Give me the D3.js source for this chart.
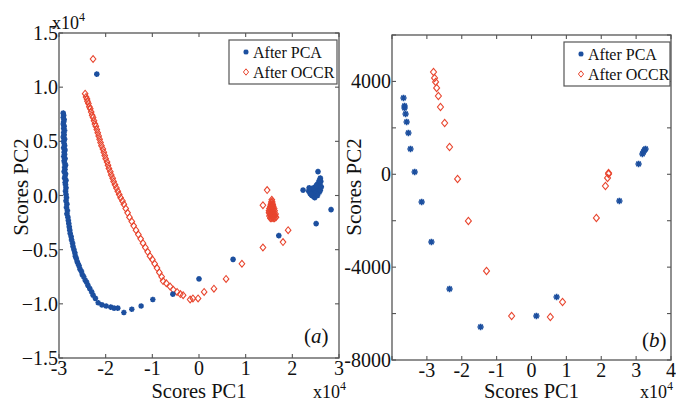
<!DOCTYPE html>
<html>
<head>
<meta charset="utf-8">
<script src="https://cdn.jsdelivr.net/npm/d3@7/dist/d3.min.js"></script>
<style>
  html, body { margin: 0; padding: 0; background: #fff; }
  svg { display: block; }
</style>
</head>
<body>
<svg id="chart" width="676" height="403" font-family="'Liberation Serif', 'Times New Roman', 'DejaVu Serif', serif"></svg>
<script>
// ---- Panel (a): scores in units of 1e4 ----
const aPcaScores = [
  [-2.91,0.76],[-2.90,0.74],[-2.91,0.72],[-2.89,0.70],[-2.90,0.68],[-2.91,0.66],[-2.89,0.64],
  [-2.90,0.62],[-2.88,0.60],[-2.90,0.58],[-2.89,0.56],[-2.91,0.54],[-2.88,0.52],[-2.90,0.50],
  [-2.89,0.48],[-2.88,0.46],[-2.90,0.44],[-2.87,0.42],[-2.89,0.40],[-2.88,0.38],[-2.90,0.36],
  [-2.87,0.34],[-2.89,0.32],[-2.88,0.30],[-2.86,0.28],[-2.88,0.26],[-2.87,0.24],[-2.89,0.22],
  [-2.86,0.20],[-2.87,0.18],[-2.88,0.16],[-2.85,0.14],[-2.87,0.12],[-2.86,0.10],[-2.85,0.07],
  [-2.86,0.04],[-2.85,0.01],[-2.84,-0.02],[-2.85,-0.05],[-2.83,-0.08],[-2.84,-0.11],[-2.82,-0.14],
  [-2.83,-0.17],[-2.81,-0.20],[-2.80,-0.23],[-2.79,-0.26],[-2.78,-0.29],[-2.77,-0.32],[-2.76,-0.35],
  [-2.74,-0.38],[-2.73,-0.41],[-2.71,-0.44],[-2.70,-0.47],[-2.68,-0.50],[-2.66,-0.53],[-2.65,-0.56],
  [-2.63,-0.58],[-2.61,-0.61],[-2.59,-0.63],[-2.57,-0.65],[-2.55,-0.68],[-2.52,-0.70],[-2.50,-0.73],
  [-2.47,-0.75],[-2.44,-0.78],[-2.41,-0.80],[-2.38,-0.83],[-2.34,-0.86],[-2.30,-0.89],[-2.27,-0.92],
  [-2.22,-0.95],[-2.16,-0.99],[-2.08,-1.01],[-1.99,-1.02],[-1.89,-1.03],[-1.82,-1.04],[-1.74,-1.04],
  [-1.61,-1.08],[-1.44,-1.05],[-1.24,-1.02],[-0.99,-0.96],[-0.56,-0.91],[0.00,-0.77],[0.73,-0.59],
  [1.71,-0.37],[2.51,-0.26],[2.83,-0.13],[-2.19,1.12],
  [2.23,0.05],[2.55,0.22],[2.35,0.04],[2.38,0.02],[2.40,0.06],[2.42,0.00],[2.44,0.03],[2.46,-0.01],
  [2.47,0.05],[2.49,0.02],[2.50,0.08],[2.52,0.04],[2.53,0.10],[2.55,0.06],[2.56,0.12],[2.57,0.08],
  [2.58,0.03],[2.59,0.10],[2.60,0.05],[2.61,0.13],[2.62,0.08],[2.45,0.07],[2.40,0.01],[2.36,0.07],
  [2.48,-0.02],[2.54,0.00],[2.58,0.14],[2.60,0.16],[2.51,0.09]
];
const aOccrScores = [
  [-2.27,1.26],
  [-2.44,0.94],[-2.42,0.91],[-2.40,0.89],[-2.39,0.87],[-2.37,0.85],[-2.35,0.82],[-2.33,0.80],
  [-2.31,0.77],[-2.29,0.74],[-2.27,0.72],[-2.25,0.69],[-2.23,0.66],[-2.21,0.64],[-2.19,0.61],
  [-2.17,0.58],[-2.15,0.55],[-2.13,0.52],[-2.11,0.49],[-2.09,0.46],[-2.06,0.43],[-2.04,0.40],
  [-2.02,0.37],[-2.00,0.34],[-1.97,0.31],[-1.95,0.28],[-1.93,0.25],[-1.90,0.22],[-1.88,0.19],
  [-1.85,0.16],[-1.83,0.13],[-1.80,0.10],[-1.77,0.07],[-1.74,0.04],[-1.71,0.01],[-1.68,-0.02],
  [-1.64,-0.05],[-1.61,-0.08],[-1.57,-0.12],[-1.53,-0.16],[-1.49,-0.20],[-1.44,-0.24],[-1.40,-0.28],
  [-1.35,-0.32],[-1.30,-0.36],[-1.25,-0.40],[-1.20,-0.44],[-1.15,-0.48],[-1.10,-0.52],[-1.05,-0.56],
  [-1.00,-0.59],[-0.95,-0.63],[-0.90,-0.67],[-0.85,-0.71],[-0.80,-0.75],[-0.77,-0.79],[-0.70,-0.81],
  [-0.62,-0.84],[-0.55,-0.87],[-0.47,-0.89],[-0.40,-0.91],[-0.34,-0.92],[-0.19,-0.96],[-0.13,-0.95],
  [-0.02,-0.95],[0.11,-0.89],[0.32,-0.86],[0.58,-0.77],[0.92,-0.63],[1.37,-0.48],[1.80,-0.43],
  [1.91,-0.32],[1.37,-0.09],[1.46,0.05],
  [1.56,-0.04],[1.55,-0.06],[1.57,-0.06],[1.54,-0.08],[1.56,-0.08],[1.58,-0.08],[1.53,-0.10],
  [1.55,-0.10],[1.57,-0.10],[1.59,-0.10],[1.51,-0.12],[1.53,-0.12],[1.56,-0.12],[1.58,-0.12],
  [1.61,-0.12],[1.50,-0.14],[1.53,-0.14],[1.56,-0.14],[1.59,-0.14],[1.62,-0.14],[1.50,-0.16],
  [1.52,-0.17],[1.55,-0.17],[1.58,-0.17],[1.61,-0.17],[1.64,-0.17],[1.51,-0.19],[1.54,-0.19],
  [1.57,-0.19],[1.60,-0.19],[1.63,-0.19],[1.53,-0.21],[1.56,-0.21],[1.59,-0.21],[1.62,-0.21],
  [1.65,-0.20]
];
const aXTicks = [-3, -2, -1, 0, 1, 2, 3];
const aYTicks = [-1.5, -1.0, -0.5, 0.0, 0.5, 1.0, 1.5];

// ---- Panel (b): PC1 in units of 1e4, PC2 raw ----
const bPcaScores = [
  [-3.67,3287],[-3.64,2942],[-3.64,2856],[-3.61,2598],[-3.58,2253],[-3.53,1779],[-3.47,1090],
  [-3.35,99],[-3.15,-1193],[-2.87,-2916],[-2.35,-4941],[-1.46,-6578],[0.14,-6104],[0.72,-5286],
  [2.52,-1150],[3.07,444],[3.18,875],[3.21,961],[3.24,1047],[3.27,1090]
];
const bOccrScores = [
  [-2.81,4407],[-2.78,4149],[-2.75,3977],[-2.72,3718],[-2.67,3373],[-2.61,2899],[-2.49,2210],
  [-2.35,1176],[-2.12,-202],[-1.81,-2011],[-1.29,-4165],[-0.57,-6104],[0.54,-6147],[0.89,-5501],
  [1.86,-1882],[2.12,-504],[2.18,-159],[2.21,13],[2.21,56]
];
const bXTicks = [-4, -3, -2, -1, 0, 1, 2, 3, 4];
const bXLabels = [-3, -2, -1, 0, 1, 2, 3, 4];
const bYTicks = [-8000, -6000, -4000, -2000, 0, 2000, 4000, 6000];
const bYLabels = [-8000, -4000, 0, 4000];

const seriesNames = ["After PCA", "After OCCR"];
const BLUE = "#1c4f9f";
const RED = "#e8452e";
const INK = "#111";

const svg = d3.select("#chart");

// marker paths: 8-armed asterisk and open diamond
function starPath(r) {
  const d = r * 0.72;
  return `M${-r},0L${r},0M0,${-r}L0,${r}M${-d},${-d}L${d},${d}M${-d},${d}L${d},${-d}`;
}
function diamondPath(w, h) {
  return `M0,${-h}L${w},0L0,${h}L${-w},0Z`;
}

function drawPanel(cfg) {
  const g = svg.append("g");
  const x = d3.scaleLinear().domain(cfg.xDomain).range([cfg.left, cfg.right]);
  const y = d3.scaleLinear().domain(cfg.yDomain).range([cfg.bottom, cfg.top]);
  const tl = 4;

  // frame
  g.append("rect")
    .attr("x", cfg.left).attr("y", cfg.top)
    .attr("width", cfg.right - cfg.left).attr("height", cfg.bottom - cfg.top)
    .attr("fill", "none").attr("stroke", "#555").attr("stroke-width", 1.3);

  // inward tick marks on all four sides
  const ticks = g.append("g").attr("stroke", "#555").attr("stroke-width", 1.1);
  cfg.xTicks.forEach(v => {
    const px = x(v);
    ticks.append("line").attr("x1", px).attr("x2", px).attr("y1", cfg.bottom).attr("y2", cfg.bottom - tl);
    ticks.append("line").attr("x1", px).attr("x2", px).attr("y1", cfg.top).attr("y2", cfg.top + tl);
  });
  cfg.yTicks.forEach(v => {
    const py = y(v);
    ticks.append("line").attr("x1", cfg.left).attr("x2", cfg.left + tl).attr("y1", py).attr("y2", py);
    ticks.append("line").attr("x1", cfg.right).attr("x2", cfg.right - tl).attr("y1", py).attr("y2", py);
  });

  // tick labels
  g.selectAll(".xl").data(cfg.xLabels).join("text")
    .attr("x", d => x(d)).attr("y", cfg.bottom + 17)
    .attr("text-anchor", "middle").attr("font-size", 20).attr("fill", INK)
    .text(d => d);
  g.selectAll(".yl").data(cfg.yLabels).join("text")
    .attr("x", cfg.left - 1).attr("y", d => y(d) + 7)
    .attr("text-anchor", "end").attr("font-size", 20).attr("fill", INK)
    .text(cfg.yFormat);

  // axis titles
  g.append("text").attr("x", (cfg.left + cfg.right) / 2).attr("y", 398)
    .attr("text-anchor", "middle").attr("font-size", 20.5).attr("fill", INK).text("Scores PC1");
  g.append("text")
    .attr("transform", `translate(${cfg.yTitleX},187) rotate(-90)`)
    .attr("text-anchor", "middle").attr("font-size", 21).attr("fill", INK).text("Scores PC2");

  // exponent notes
  cfg.exponents.forEach(e => {
    const t = g.append("text").attr("x", e.x).attr("y", e.y).attr("font-size", 18).attr("fill", INK);
    t.append("tspan").text("x10");
    t.append("tspan").attr("dy", -8).attr("font-size", 12).text("4");
  });

  // panel tag
  const tag = g.append("text").attr("x", cfg.tag.x).attr("y", cfg.tag.y)
    .attr("font-size", 21).attr("fill", INK);
  tag.append("tspan").text("(");
  tag.append("tspan").attr("font-style", "italic").text(cfg.tag.letter);
  tag.append("tspan").text(")");

  // points
  const clip = "clip" + cfg.id;
  g.append("clipPath").attr("id", clip).append("rect")
    .attr("x", cfg.left).attr("y", cfg.top)
    .attr("width", cfg.right - cfg.left).attr("height", cfg.bottom - cfg.top);
  const pts = g.append("g").attr("clip-path", `url(#${clip})`);
  pts.selectAll(".occr").data(cfg.occr).join("path")
    .attr("transform", d => `translate(${x(d[0])},${y(d[1])})`)
    .attr("d", diamondPath(cfg.dw, cfg.dh))
    .attr("fill", "none")
    .attr("stroke", RED).attr("stroke-width", 1.1);
  pts.selectAll(".pca").data(cfg.pca).join("path")
    .attr("transform", d => `translate(${x(d[0])},${y(d[1])})`)
    .attr("d", starPath(cfg.sr))
    .attr("fill", "none").attr("stroke", BLUE).attr("stroke-width", 1.6);

  // legend
  const L = cfg.legend;
  const lg = g.append("g");
  lg.append("rect").attr("x", L.x).attr("y", L.y).attr("width", L.w).attr("height", L.h)
    .attr("fill", "#fff").attr("stroke", "#555").attr("stroke-width", 1.2);
  lg.append("path").attr("transform", `translate(${L.x + 17},${L.y + 12})`)
    .attr("d", starPath(2.6)).attr("fill", "none").attr("stroke", BLUE).attr("stroke-width", 1.5);
  lg.append("path").attr("transform", `translate(${L.x + 17},${L.y + 32})`)
    .attr("d", diamondPath(2.6, 3.2)).attr("fill", "none").attr("stroke", RED).attr("stroke-width", 1);
  lg.selectAll(".lt").data(seriesNames).join("text")
    .attr("x", L.x + 24).attr("y", (d, i) => L.y + 18 + i * 20)
    .attr("font-size", 16).attr("fill", INK).text(d => d);
}

drawPanel({
  id: "a", left: 59, right: 339, top: 33, bottom: 358,
  xDomain: [-3, 3], yDomain: [-1.5, 1.5],
  xTicks: aXTicks, xLabels: aXTicks, yTicks: aYTicks, yLabels: aYTicks,
  yFormat: d3.format(".1f"),
  yTitleX: 28,
  exponents: [{ x: 52, y: 29 }, { x: 313, y: 398 }],
  tag: { x: 304, y: 343, letter: "a" },
  pca: aPcaScores, occr: aOccrScores, sr: 2.8, dw: 2.8, dh: 3.4,
  legend: { x: 229, y: 40, w: 108, h: 44 }
});

drawPanel({
  id: "b", left: 392, right: 671, top: 35, bottom: 360,
  xDomain: [-4, 4], yDomain: [-8000, 6000],
  xTicks: bXTicks, xLabels: bXLabels, yTicks: bYTicks, yLabels: bYLabels,
  yFormat: d => d,
  yTitleX: 361,
  exponents: [{ x: 640, y: 398 }],
  tag: { x: 642, y: 347, letter: "b" },
  pca: bPcaScores, occr: bOccrScores, sr: 3.2, dw: 3, dh: 3.6,
  legend: { x: 564, y: 42, w: 106, h: 44 }
});
</script>
</body>
</html>
